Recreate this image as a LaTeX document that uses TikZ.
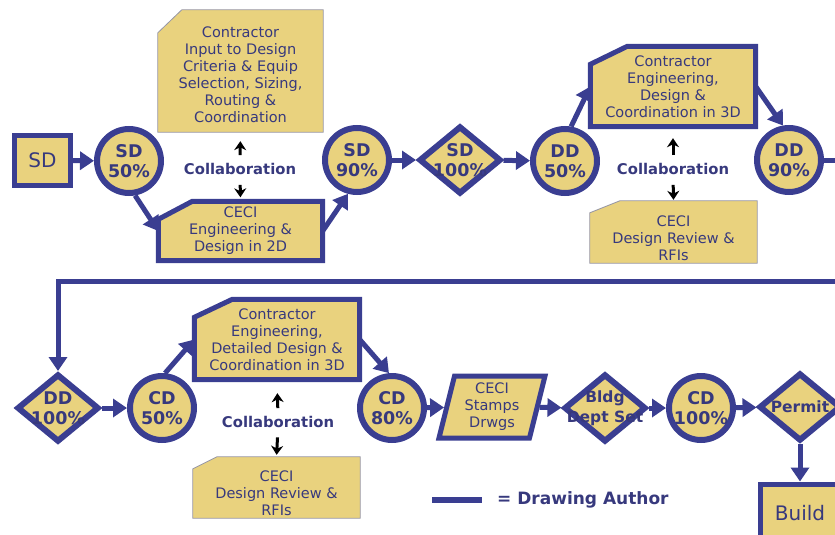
\documentclass[tikz,border=0pt]{standalone}
\usepackage{fontspec}
\setmainfont{DejaVu Sans}
\usepackage{tikz}
\usetikzlibrary{shapes.geometric}
\usetikzlibrary{arrows.meta}
\usetikzlibrary{backgrounds}

\definecolor{authblue}{RGB}{58,62,145}
\definecolor{tanfill}{RGB}{233,210,126}
\definecolor{inkblue}{RGB}{55,57,125}
\definecolor{thinedge}{RGB}{150,150,165}

\tikzset{
  stagetext/.style={font=\bfseries\fontsize{17.5}{20}\selectfont, text=inkblue, align=center, inner sep=0pt},
  gatetext/.style={stagetext, font=\bfseries\fontsize{15.5}{20}\selectfont},
  boxtext/.style={font=\fontsize{14.5}{17}\selectfont, text=inkblue, align=center},
  stagecircle/.style={circle, draw=authblue, line width=6pt, fill=tanfill,
    minimum size=64pt, inner sep=0pt, label={[stagetext]center:#1}},
  stagediamond/.style={diamond, draw=authblue, line width=6pt, fill=tanfill,
    minimum width=82pt, minimum height=68pt, inner sep=0pt, label={[stagetext]center:#1}},
  gatediamond/.style={stagediamond, label={[gatetext]center:#1}},
  endbox/.style={rectangle, draw=authblue, line width=5pt, fill=tanfill,
    font=\fontsize{20}{22}\selectfont, text=inkblue, inner sep=0pt},
  notebox/.style={rectangle, boxtext, inner sep=0pt},
  authorline/.style={draw=authblue, line width=5pt, fill=tanfill},
  reviewline/.style={draw=thinedge, line width=0.8pt, fill=tanfill},
  flowline/.style={draw=authblue, line width=5pt},
  flowarrow/.style={flowline, -{Triangle[length=14pt, width=18pt]}},
  collabarrow/.style={draw=black, line width=3pt, -{Stealth[length=9pt, width=12pt]}},
  collabtext/.style={font=\bfseries\fontsize{14.8}{17}\selectfont, text=inkblue, inner sep=0pt},
}

\begin{document}
\begin{tikzpicture}[x=1pt, y=-1pt]
  \useasboundingbox (0,0) rectangle (835,535);
  \clip (0,0) rectangle (835,535);

  % first row: schematic and design development
  \node[endbox, minimum width=56pt, minimum height=50pt] (sd) at (42.5,160.5) {SD};
  \node[stagecircle={SD\\50\%}] (sd50) at (129,161) {};
  \node[notebox, minimum width=165pt, minimum height=122pt] (input) at (240.5,71) {};
  \node[boxtext] (inputtxt) at (240.5,75)
    {Contractor\\Input to Design\\Criteria \& Equip\\Selection, Sizing,\\Routing \&\\Coordination};
  \node[collabtext] (collab1) at (240,169) {Collaboration};
  \node[notebox, minimum width=164pt, minimum height=59pt] (ceci2d) at (240.5,231)
    {CECI\\Engineering \&\\Design in 2D};
  \node[stagecircle={SD\\90\%}] (sd90) at (357,160) {};
  \node[stagediamond={SD\\100\%}] (sd100) at (460,160) {};
  \node[stagecircle={DD\\50\%}] (dd50) at (565,161) {};
  \node[notebox, minimum width=165pt, minimum height=80pt] (eng3d) at (673,86.5)
    {Contractor\\Engineering,\\Design \&\\Coordination in 3D};
  \node[collabtext] (collab2) at (673,169) {Collaboration};
  \node[notebox, minimum width=167pt, minimum height=62pt] (review1) at (673.5,232) {};
  \node[boxtext] (review1txt) at (673.5,238) {CECI\\Design Review \&\\RFIs};
  \node[stagecircle={DD\\90\%}] (dd90) at (789,160) {};

  % second row: construction documents
  \coordinate (rowbreak) at (0,281);
  \node[stagediamond={DD\\100\%}] (dd100) at (58,408) {};
  \node[stagecircle={CD\\50\%}] (cd50) at (162,408) {};
  \node[notebox, minimum width=165pt, minimum height=80pt] (detail3d) at (277,339.5)
    {Contractor\\Engineering,\\Detailed Design \&\\Coordination in 3D};
  \node[collabtext] (collab3) at (278,422) {Collaboration};
  \node[notebox, minimum width=167pt, minimum height=61pt] (review2) at (276.5,487.5) {};
  \node[boxtext] (review2txt) at (276.5,493.5) {CECI\\Design Review \&\\RFIs};
  \node[stagecircle={CD\\80\%}] (cd80) at (392,408) {};
  \node[trapezium, trapezium left angle=72, trapezium right angle=108, trapezium stretches body,
    draw=authblue, line width=5pt, fill=tanfill, boxtext, inner sep=0pt,
    minimum width=106pt, minimum height=62pt] (stamps) at (492,407) {CECI\\Stamps\\Drwgs};
  \node[gatediamond={Bldg\\Dept Set}] (bldg) at (605,408) {};
  \node[stagecircle={CD\\100\%}] (cd100) at (701,408) {};
  \node[gatediamond={Permit}] (permit) at (800,407) {};
  \node[endbox, minimum width=80pt, minimum height=58pt] (build) at (800,513) {Build};

  % clipped corner boxes
  \begin{scope}[on background layer]
    \foreach \n/\cx/\cy in {ceci2d/34/18, eng3d/37/18, detail3d/38/18}
      \draw[authorline] ([yshift=-\cy pt]\n.north west) -- ([xshift=\cx pt]\n.north west)
        -- (\n.north east) -- (\n.south east) -- (\n.south west) -- cycle;
    \foreach \n/\cx/\cy in {input/24/23, review1/30/12, review2/24/12}
      \draw[reviewline] ([yshift=-\cy pt]\n.north west) -- ([xshift=\cx pt]\n.north west)
        -- (\n.north east) -- (\n.south east) -- (\n.south west) -- cycle;
  \end{scope}

  % legend
  \coordinate (keyL) at (432,500);
  \coordinate (keyR) at (482,500);
  \draw[flowline, line width=6pt] (keyL) -- (keyR);
  \node[collabtext, font=\bfseries\fontsize{17}{19}\selectfont, anchor=west] (keytext) at (497,500) {= Drawing Author};

  % flow
  \draw[flowarrow] (sd) -- (sd50);
  \draw[flowarrow] (sd50.-80) -- (ceci2d.west);
  \draw[flowarrow] (ceci2d.east) -- (sd90.-105);
  \draw[flowarrow] (sd90) -- (sd100);
  \draw[flowarrow] (sd100) -- (dd50);
  \draw[flowarrow] (dd50.80) -- (eng3d.west);
  \draw[flowarrow] (eng3d.east) -- (dd90.100);
  \draw[flowarrow] (dd90.east) -- ++(40,0) |- (dd100.north |- rowbreak) -- (dd100.north);
  \draw[flowarrow] (dd100) -- (cd50);
  \draw[flowarrow] (cd50.85) -- (detail3d.west);
  \draw[flowarrow] (detail3d.east) -- (cd80.95);
  \draw[flowarrow] (cd80) -- (stamps);
  \draw[flowarrow] (stamps) -- (bldg);
  \draw[flowarrow] (bldg) -- (cd100);
  \draw[flowarrow] (cd100) -- (permit);
  \draw[flowarrow] (permit) -- (build);

  % collaboration
  \draw[collabarrow, shorten <=8pt, shorten >=9pt] (collab1.north) -- (input.south);
  \draw[collabarrow, shorten <=10pt, shorten >=4pt] (collab1.south) -- (ceci2d.north);
  \draw[collabarrow, shorten <=8pt, shorten >=11.5pt] (collab2.north) -- (eng3d.south);
  \draw[collabarrow, shorten <=10pt, shorten >=1pt] (collab2.south) -- (review1.north);
  \draw[collabarrow, shorten <=8pt, shorten >=13.5pt] (collab3.north) -- (detail3d.south);
  \draw[collabarrow, shorten <=9.5pt, shorten >=2pt] (collab3.south) -- (review2.north);
\end{tikzpicture}
\end{document}
